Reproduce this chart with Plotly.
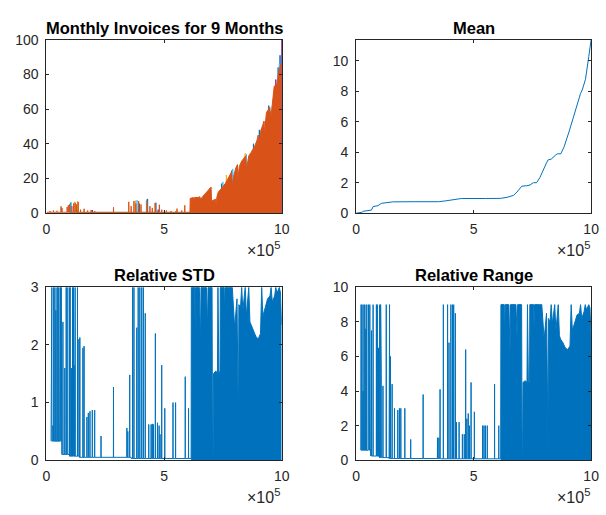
import plotly.graph_objects as go

# ---------------- data (x in units of 1e5) ----------------
# Mean curve
mean_x = [0, 0.24, 0.30, 0.65, 0.72, 0.93, 1.07, 1.56, 2.5, 3.5, 3.78, 4.34, 4.48, 5.5, 6.15, 6.42, 6.70,
          6.84, 7.05, 7.26, 7.40, 7.54, 7.68, 7.82, 7.96, 8.10, 8.17, 8.30, 8.50, 8.57, 8.71, 8.85, 9.07,
          9.28, 9.41, 9.55, 9.62, 9.76, 9.90, 10.0]
mean_y = [0, 0.05, 0.12, 0.2, 0.43, 0.49, 0.64, 0.74, 0.75, 0.75, 0.8, 0.91, 0.96, 0.96, 0.97, 1.04, 1.17,
          1.38, 1.77, 1.8, 1.85, 2.0, 2.0, 2.34, 2.87, 3.3, 3.5, 3.55, 3.83, 3.9, 3.9, 4.36, 5.4,
          6.5, 7.1, 7.87, 8.09, 8.8, 10.3, 11.4]

# Monthly invoices: orange (last series) small spikes and dense envelope
inv_or_sx = [0.15, 0.30, 0.45, 0.62, 0.66, 0.88, 0.93, 0.98, 1.08, 1.15, 1.22, 1.28, 1.35, 1.45, 1.60, 1.75,
             1.90, 2.05, 2.85, 3.50, 3.60, 3.72, 3.80, 3.92, 4.02, 4.28, 4.40, 4.50, 4.62, 4.80, 4.90, 5.10,
             5.30, 5.55, 5.75, 5.88]
inv_or_sh = [1.2, 1.5, 1.3, 3.9, 3.0, 3.5, 4.5, 5.0, 4.0, 5.5, 6.0, 5.0, 6.5, 2.0, 2.5, 1.5,
             1.8, 1.2, 3.4, 6.5, 4.0, 7.0, 5.5, 7.0, 5.0, 7.0, 4.0, 3.0, 5.8, 4.8, 2.0, 1.5,
             1.2, 2.6, 1.5, 4.5]
inv_or_base = 0.5
inv_or_dx = [6.10, 6.11, 6.25, 6.28, 6.30, 6.45, 6.52, 6.55, 6.70, 6.85, 6.95, 7.00, 7.02, 7.04, 7.10, 7.20,
             7.22, 7.24, 7.30, 7.40, 7.50, 7.60, 7.70, 7.80, 7.86, 7.88, 7.95, 8.05, 8.12, 8.14, 8.20, 8.30,
             8.40, 8.47, 8.50, 8.60, 8.70, 8.80, 8.85, 8.95, 9.00, 9.03, 9.10, 9.20, 9.24, 9.26, 9.35, 9.45,
             9.47, 9.55, 9.65, 9.68, 9.75, 9.82, 9.85, 9.92, 9.96, 10.0]
inv_or_dy = [0.5, 8.5, 9.0, 7.5, 9.0, 9.0, 9.5, 8.0, 10.5, 13.0, 14.5, 15.0, 6.5, 7.0, 7.5, 8.0,
             1.0, 9.0, 12.0, 13.5, 15.5, 17.0, 19.5, 22.0, 23.5, 15.0, 21.0, 26.0, 28.0, 20.0, 27.0, 30.0,
             32.0, 33.0, 25.0, 33.0, 35.0, 37.0, 38.5, 42.0, 45.0, 38.0, 47.0, 51.0, 53.0, 45.0, 58.0, 60.0,
             61.0, 56.0, 70.0, 73.0, 74.0, 75.0, 80.0, 83.0, 86.0, 85.0]

# Other monthly series (only their tips show above the orange)
inv_tips = {
    "#0072BD": ([1.02, 3.95, 4.30, 4.65, 7.45, 7.88, 8.35, 8.80, 9.05, 9.45, 9.85, 9.93],
                [6.0, 5.5, 8.2, 6.0, 17, 24.5, 29, 40, 48, 62, 84, 91]),
    "#4DBEEE": ([1.05, 3.85, 4.25, 6.95, 7.50, 7.92, 8.50, 8.95, 9.20, 9.50, 9.90],
                [6.2, 7.5, 7.8, 14.5, 18, 25.5, 34, 39, 49, 61, 86]),
    "#EDB120": ([1.20, 1.32, 3.78, 7.65, 8.45, 9.60], [6.5, 6.8, 7.2, 22, 34.5, 62]),
    "#7E2F8E": ([1.95, 4.75, 8.90, 9.75, 10.0], [1.8, 2.0, 39, 77, 100]),
    "#77AC30": ([1.30, 5.50, 8.55, 9.15], [2.2, 1.2, 29, 48]),
    "#A2142F": ([9.30, 9.80], [53, 74]),
}

# Relative STD: sparse spikes, step baseline, dense envelope
std_sx = [0.20, 0.23, 0.27, 0.31, 0.36, 0.40, 0.45, 0.49, 0.53, 0.57, 0.60, 0.63, 0.70, 0.78, 0.84, 0.88,
          0.97, 1.01, 1.06, 1.11, 1.15, 1.18, 1.22, 1.32, 1.38, 1.42, 1.55, 1.60, 1.72, 1.78, 1.85, 1.95,
          2.05, 2.32, 2.85, 3.42, 3.46, 3.54, 3.66, 3.72, 3.84, 3.90, 3.97, 4.05, 4.12, 4.20, 4.35, 4.45,
          4.50, 4.55, 4.63, 4.72, 4.79, 4.83, 4.90, 5.03, 5.38, 5.49, 5.90, 6.04]
std_sh = [3, 3, 0.6, 3, 3, 2.6, 3, 3, 3, 2.0, 3, 3, 2.4, 1.6, 3, 3,
          3, 3, 1.6, 3, 3, 1.65, 3, 3, 2.1, 2.13, 1.95, 1.98, 0.75, 0.82, 0.85, 0.87,
          0.87, 0.42, 1.27, 0.56, 0.5, 1.48, 3, 3, 2.3, 3, 3, 3, 3, 2.55, 0.62, 0.62,
          0.63, 0.62, 2.2, 0.65, 0.6, 0.45, 1.65, 0.9, 1.0, 1.0, 1.45, 0.9]
std_base_edges = [0.20, 0.65, 0.98, 1.40, 3.60, 6.15]
std_base_vals = [0.33, 0.10, 0.07, 0.05, 0.03]

dense_x = [6.15, 6.16, 6.30, 6.32, 6.34, 6.50, 6.55, 6.57, 6.80, 6.85, 6.87, 7.04, 7.06, 7.08, 7.10, 7.20,
           7.27, 7.29, 7.33, 7.38, 7.39, 7.55, 7.57, 7.59, 7.80, 7.90, 8.00, 8.10, 8.14, 8.16, 8.18, 8.25,
           8.30, 8.35, 8.45, 8.50, 8.60, 8.65, 8.70, 8.80, 8.90, 9.00, 9.10, 9.15, 9.20, 9.30, 9.40, 9.50,
           9.55, 9.60, 9.70, 9.75, 9.80, 9.90, 9.95, 10.0]
std_dy = [0.03, 3, 3, 2.2, 3, 3, 2.0, 3, 3, 2.3, 3, 3, 0, 0, 1.5, 1.55,
          1.5, 3, 1.5, 1.55, 3, 3, 2.5, 3, 3, 3, 2.3, 2.8, 1.3, 0.2, 2.7, 2.65,
          3, 2.6, 3, 2.5, 3, 2.4, 2.35, 2.25, 2.15, 2.1, 2.2, 3, 2.5, 2.65, 2.8, 2.85,
          3, 2.75, 2.85, 3, 2.9, 3, 2.9, 2.35]

# Relative Range
rng_sx = [0.21, 0.25, 0.29, 0.33, 0.37, 0.41, 0.45, 0.52, 0.55, 0.58, 0.65, 0.72, 0.86, 0.90, 0.95, 1.00,
          1.04, 1.07, 1.14, 1.28, 1.42, 1.46, 1.53, 1.63, 1.77, 1.84, 1.90, 2.07, 2.32, 2.85, 3.46, 3.52,
          3.57, 3.71, 3.89, 3.95, 4.03, 4.10, 4.15, 4.22, 4.27, 4.38, 4.52, 4.60, 4.66, 4.71, 4.77, 4.82,
          4.89, 5.03, 5.38, 5.44, 5.50, 5.58, 5.89, 6.07]
rng_sh = [9, 9, 4, 9, 9, 7.6, 9, 9, 6, 9, 7.5, 9, 9, 9, 6.5, 9,
          9, 5.0, 4.3, 9, 9, 6.0, 4.4, 3.0, 2.9, 3.0, 3.0, 3.0, 1.2, 3.8, 1.3, 1.3,
          4.1, 9, 9, 6.8, 9, 9, 9, 8.5, 2.2, 2.2, 1.5, 1.5, 6.4, 2.4, 2.7, 2.0,
          4.5, 2.8, 2.0, 2.0, 2.0, 2.0, 4.4, 2.0]
rng_base_edges = [0.20, 0.62, 1.00, 1.40, 3.60, 6.15]
rng_base_vals = [0.58, 0.24, 0.15, 0.10, 0.08]
rng_dy = [0.08, 9, 9, 6.5, 9, 9, 6.0, 9, 9, 7.0, 9, 9, 0, 0, 4.5, 4.6,
          4.5, 9, 4.5, 4.6, 9, 9, 7.5, 9, 9, 9, 7.0, 8.5, 4.0, 0.5, 8.2, 8.0,
          9, 7.9, 9, 7.5, 9, 7.2, 7.0, 6.8, 6.5, 6.4, 6.6, 9, 7.5, 8.0, 8.4, 8.5,
          9, 8.2, 8.6, 9, 8.7, 9, 8.8, 7.0]

x_ticks = [0, 5, 10]

# ---------------- helpers ----------------
EPS = 0.004


def step_base(x, edges, vals):
    for i in range(len(vals)):
        if edges[i] <= x < edges[i + 1]:
            return vals[i]
    return vals[-1]


def spike_line(xs, hs, edges=None, vals=None, const=0.0):
    pts = []
    for x, h in zip(xs, hs):
        b = step_base(x, edges, vals) if edges else const
        pts.append((x - EPS, 0, b))
        pts.append((x, 1, h))
        pts.append((x + EPS, 2, b))
    if edges:
        for i, e in enumerate(edges):
            if i > 0:
                pts.append((e - 1e-6, 3, vals[i - 1]))
            if i < len(vals):
                pts.append((e + 1e-6, 4, vals[i]))
    pts.sort(key=lambda p: (p[0], p[1]))
    return [p[0] for p in pts], [p[2] for p in pts]


BLUE = "#0072BD"
ORANGE = "#D95319"
TXT = "#262626"
FONT = "Liberation Sans, Arial, sans-serif"

fig = go.Figure()

# Top-left: monthly invoices
for col, (tx, th) in inv_tips.items():
    X, Y = spike_line(tx, th, const=0.0)
    fig.add_trace(go.Scatter(x=X, y=Y, mode="lines", line=dict(color=col, width=1),
                             xaxis="x", yaxis="y", hoverinfo="skip"))
X, Y = spike_line(inv_or_sx, inv_or_sh, const=inv_or_base)
fig.add_trace(go.Scatter(x=[0] + X + [inv_or_dx[0]], y=[inv_or_base] + Y + [inv_or_base], mode="lines",
                         line=dict(color=ORANGE, width=1), xaxis="x", yaxis="y", hoverinfo="skip"))
fig.add_trace(go.Scatter(x=inv_or_dx, y=inv_or_dy, mode="lines", fill="tozeroy", fillcolor=ORANGE,
                         line=dict(color=ORANGE, width=1), xaxis="x", yaxis="y", hoverinfo="skip"))

# Top-right: mean
fig.add_trace(go.Scatter(x=mean_x, y=mean_y, mode="lines", line=dict(color=BLUE, width=1),
                         xaxis="x2", yaxis="y2", hoverinfo="skip"))

# Bottom-left: relative STD
X, Y = spike_line(std_sx, std_sh, std_base_edges, std_base_vals)
fig.add_trace(go.Scatter(x=X, y=Y, mode="lines", line=dict(color=BLUE, width=1),
                         xaxis="x3", yaxis="y3", hoverinfo="skip"))
fig.add_trace(go.Scatter(x=dense_x, y=std_dy, mode="lines", fill="tozeroy", fillcolor=BLUE,
                         line=dict(color=BLUE, width=1), xaxis="x3", yaxis="y3", hoverinfo="skip"))

# Bottom-right: relative range
X, Y = spike_line(rng_sx, rng_sh, rng_base_edges, rng_base_vals)
fig.add_trace(go.Scatter(x=X, y=Y, mode="lines", line=dict(color=BLUE, width=1),
                         xaxis="x4", yaxis="y4", hoverinfo="skip"))
fig.add_trace(go.Scatter(x=dense_x, y=rng_dy, mode="lines", fill="tozeroy", fillcolor=BLUE,
                         line=dict(color=BLUE, width=1), xaxis="x4", yaxis="y4", hoverinfo="skip"))

W, H = 606, 515
xL = [43.3 / W, 283.3 / W]
xR = [359.3 / W, 599.0 / W]
yT = [(H - 211.7) / H, (H - 32.7) / H]
yB = [(H - 466.7) / H, (H - 288.3) / H]

ax = dict(showline=True, linecolor=TXT, linewidth=1, mirror="ticks", ticks="inside", ticklen=3,
          tickwidth=1, tickcolor=TXT, showgrid=False, zeroline=False,
          tickfont=dict(size=14, color=TXT, family=FONT))


def xa(dom, anchor):
    d = dict(ax)
    d.update(domain=dom, anchor=anchor, range=[0, 10], tickvals=x_ticks,
             ticktext=[str(t) for t in x_ticks], ticklabelstandoff=3)
    return d


def ya(dom, anchor, rng, tv):
    d = dict(ax)
    d.update(domain=dom, anchor=anchor, range=rng, tickvals=tv, ticklabelstandoff=4)
    return d


fig.update_layout(
    width=W, height=H, margin=dict(l=0, r=0, t=0, b=0),
    plot_bgcolor="white", paper_bgcolor="white", showlegend=False,
    font=dict(family=FONT, size=14, color=TXT),
    xaxis=xa(xL, "y"), yaxis=ya(yT, "x", [0, 100], [0, 20, 40, 60, 80, 100]),
    xaxis2=xa(xR, "y2"), yaxis2=ya(yT, "x2", [0, 11.4], [0, 2, 4, 6, 8, 10]),
    xaxis3=xa(xL, "y3"), yaxis3=ya(yB, "x3", [0, 3], [0, 1, 2, 3]),
    xaxis4=xa(xR, "y4"), yaxis4=ya(yB, "x4", [0, 10], [0, 2, 4, 6, 8, 10]),
)

titles = [("Monthly Invoices for 9 Months", 163.3, 20.5), ("Mean", 479.2, 20.5),
          ("Relative STD", 163.3, 276), ("Relative Range", 479.2, 276)]
for t, px, py in titles:
    fig.add_annotation(text="<b>%s</b>" % t, xref="paper", yref="paper", x=px / W, y=1 - py / H,
                       xanchor="center", yanchor="middle", showarrow=False,
                       font=dict(size=16.5, color="black", family=FONT))

for px, py in [(284.0, 248.5), (600.0, 248.5), (284.0, 503.5), (600.0, 503.5)]:
    fig.add_annotation(text="×10<sup>5</sup>", xref="paper", yref="paper", x=px / W, y=1 - py / H,
                       xanchor="right", yanchor="middle", showarrow=False,
                       font=dict(size=16, color=TXT, family=FONT))

fig.write_html("out.html")
